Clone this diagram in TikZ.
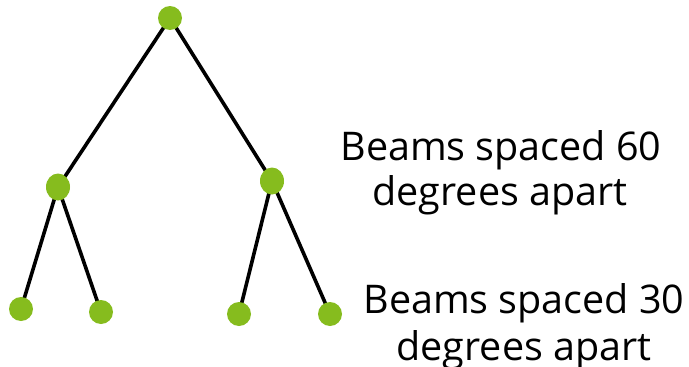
\documentclass[tikz,border=0pt]{standalone}
\usepackage{fontspec}
\setmainfont{Open Sans}
\usetikzlibrary{shapes.geometric,backgrounds}
\definecolor{dotgreen}{RGB}{134,188,30}
\tikzset{
  dot/.style={ellipse, fill=dotgreen, inner sep=0pt, minimum width=24pt, minimum height=24pt},
  middot/.style={dot, minimum height=27pt},
  beam/.style={line width=3.6pt, black},
  lbl/.style={anchor=base, inner sep=0pt, font=\fontsize{39.5}{45}\selectfont}
}
\begin{document}
\begin{tikzpicture}[x=1pt,y=-1pt]
\useasboundingbox (0,0) rectangle (689,367);
\node[dot] (top) at (170,18) {};
\node[middot] (ml) at (58,187) {};
\node[middot] (mr) at (272,181) {};
\node[dot] (l1) at (21,309) {};
\node[dot] (l2) at (101,312) {};
\node[dot] (r1) at (239,314) {};
\node[dot] (r2) at (330,314) {};
\begin{scope}[on background layer]
\draw[beam] (top.center) -- (ml.center);
\draw[beam] (top.center) -- (mr.center);
\draw[beam] (ml.center) -- (l1.center);
\draw[beam] (ml.center) -- (l2.center);
\draw[beam] (mr.center) -- (r1.center);
\draw[beam] (mr.center) -- (r2.center);
\end{scope}
\node[lbl] (t1) at (501,160) {Beams spaced 60};
\node[lbl] (t2) at (500,205) {degrees apart};
\node[lbl] (t3) at (524,313) {Beams spaced 30};
\node[lbl] (t4) at (524,360) {degrees apart};
\end{tikzpicture}
\end{document}
